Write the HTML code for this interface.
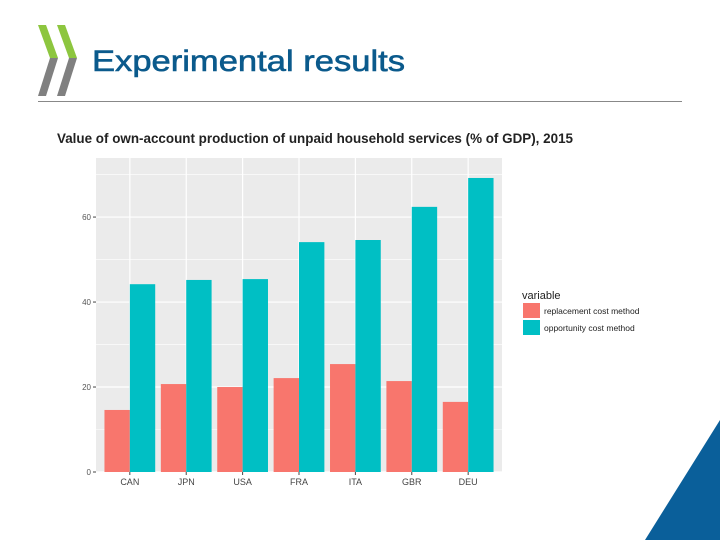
<!DOCTYPE html>
<html><head><meta charset="utf-8"><style>
body{margin:0;width:720px;height:540px;overflow:hidden;background:#fff;font-family:"Liberation Sans",sans-serif;position:relative}
</style></head><body>
<svg width="720" height="540" style="position:absolute;left:0;top:0">
<g>
<polygon points="38,25 46,25 58,58 50,58" fill="#8dc63f"/>
<polygon points="50,58 58,58 46,96 38,96" fill="#808080"/>
<polygon points="57,25 65,25 77,58 69,58" fill="#8dc63f"/>
<polygon points="69,58 77,58 65,96 57,96" fill="#808080"/>
</g>
<text x="92" y="71" font-size="30" textLength="313" lengthAdjust="spacingAndGlyphs" fill="#0b5a8c" stroke="#0b5a8c" stroke-width="0.6">Experimental results</text>
<line x1="38" y1="101.5" x2="682" y2="101.5" stroke="#888" stroke-width="1"/>
<polygon points="720,420 720,540 645,540" fill="#0a5f9a"/>
<text x="57" y="143" font-size="14" font-weight="bold" textLength="516" lengthAdjust="spacingAndGlyphs" fill="#222">Value of own-account production of unpaid household services (% of GDP), 2015</text>
<g id="chart"></g>
<g>
<text x="522" y="299" font-size="11" fill="#222">variable</text>
<rect x="523" y="303" width="17" height="15" fill="#F8766D"/>
<text x="544" y="314" font-size="8.5" fill="#222">replacement cost method</text>
<rect x="523" y="320" width="17" height="15" fill="#00BFC4"/>
<text x="544" y="331" font-size="8.5" fill="#222">opportunity cost method</text>
</g>
</svg>
<script>
const categories=["CAN","JPN","USA","FRA","ITA","GBR","DEU"];
const replacement=[14.6,20.7,20.0,22.1,25.4,21.4,16.5];
const opportunity=[44.2,45.2,45.4,54.1,54.6,62.4,69.2];
const yTicks=[0,20,40,60];
const NS="http://www.w3.org/2000/svg";
const g=document.getElementById('chart');
const L=96,R=502,T=158,B=472,yMax=73.9;
const y=v=>B-(v/yMax)*(B-T);
const band=(R-L)/(categories.length-1+1.2);
const xc=i=>L+band*(0.6+i);
function mk(tag,a){const e=document.createElementNS(NS,tag);for(const k in a)e.setAttribute(k,a[k]);g.appendChild(e);return e;}
let bg=mk('rect',{x:L,y:T,width:R-L,height:B-T,fill:'#EBEBEB'});


for(let v=10;v<yMax;v+=20){let l=mk('line',{x1:L,x2:R,y1:y(v),y2:y(v),stroke:'#fff','stroke-width':0.6});

}
yTicks.forEach(v=>{let l=mk('line',{x1:L,x2:R,y1:y(v),y2:y(v),stroke:'#fff','stroke-width':1.2});


let tk=mk('line',{x1:L-3,x2:L,y1:y(v),y2:y(v),stroke:'#444'});


let t=mk('text',{x:L-5,y:y(v)+3,'font-size':8,'text-anchor':'end',fill:'#555'});t.textContent=v;

});
categories.forEach((c,i)=>{let l=mk('line',{x1:xc(i),x2:xc(i),y1:T,y2:B,stroke:'#fff','stroke-width':1.2});

});
const bw=band*0.45;
categories.forEach((c,i)=>{
let r1=mk('rect',{x:xc(i)-bw,y:y(replacement[i]),width:bw,height:B-y(replacement[i]),fill:'#F8766D'});


let r2=mk('rect',{x:xc(i),y:y(opportunity[i]),width:bw,height:B-y(opportunity[i]),fill:'#00BFC4'});


let tk=mk('line',{x1:xc(i),x2:xc(i),y1:B,y2:B+3,stroke:'#444'});


let t=mk('text',{x:xc(i),y:B+13,'font-size':9,'text-anchor':'middle',fill:'#444'});t.textContent=c;


});
</script>
</body></html>
